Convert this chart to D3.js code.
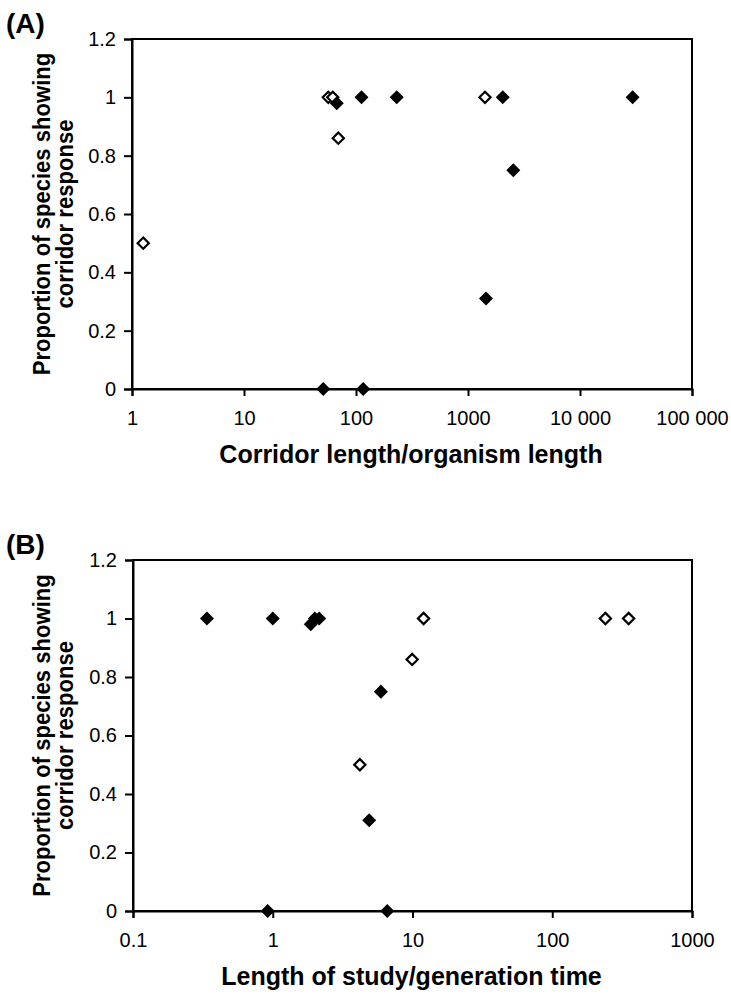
<!DOCTYPE html>
<html>
<head>
<meta charset="utf-8">
<script src="https://cdn.jsdelivr.net/npm/d3@7"></script>
<style>
  body { margin: 0; background: #fff; }
  text { font-family: "Liberation Sans", Arial, sans-serif; }
</style>
</head>
<body>
<div id="chart"></div>
<script>
// values

// (A) corridor length / organism length
var corridorOpenX = [1.26, 56.6, 62, 69.5, 1418];
var corridorOpenY = [0.5, 1, 1, 0.86, 1];
var corridorFilledX = [67.3, 112, 231, 51, 116, 2042, 2540, 1448, 29500];
var corridorFilledY = [0.98, 1, 1, 0, 0, 1, 0.75, 0.31, 1];

// (B) length of study / generation time
var studyOpenX = [4.2, 9.94, 12, 240, 352];
var studyOpenY = [0.5, 0.86, 1, 1, 1];
var studyFilledX = [0.338, 1.0, 1.87, 2.0, 2.15, 5.94, 4.9, 0.92, 6.6];
var studyFilledY = [1, 1, 0.98, 1, 1, 0.75, 0.31, 0, 0];

var yTicks = [0, 0.2, 0.4, 0.6, 0.8, 1, 1.2];
var yTickLabels = ["0", "0.2", "0.4", "0.6", "0.8", "1", "1.2"];
var xTicksA = [1, 10, 100, 1000, 10000, 100000];
var xTickLabelsA = ["1", "10", "100", "1000", "10 000", "100 000"];
var xTicksB = [0.1, 1, 10, 100, 1000];
var xTickLabelsB = ["0.1", "1", "10", "100", "1000"];

var svg = d3.select("#chart")
    .append("svg")
    .attr("width", 731)
    .attr("height", 1001);

function zip(xs, ys) {
    return xs.map(function (d, i) { return {x: d, y: ys[i]}; });
}

function panel(opt) {
    var x = d3.scaleLog().domain(opt.xDomain).range([opt.left, opt.right]);
    var y = d3.scaleLinear().domain([0, 1.2]).range([opt.bottom, opt.top]);

    // frame
    svg.append("rect")
        .attr("x", opt.left)
        .attr("y", opt.top)
        .attr("width", opt.right - opt.left)
        .attr("height", opt.bottom - opt.top)
        .attr("fill", "none")
        .attr("stroke", "#000")
        .attr("stroke-width", 2);

    var gx = svg.append("g")
        .attr("transform", "translate(0," + opt.bottom + ")")
        .call(d3.axisBottom(x)
            .tickValues(opt.xTicks)
            .tickFormat(function (d, i) { return opt.xLabels[i]; })
            .tickSizeOuter(0)
            .tickSize(7)
            .tickPadding(15));

    var gy = svg.append("g")
        .attr("transform", "translate(" + opt.left + ",0)")
        .call(d3.axisLeft(y)
            .tickValues(yTicks)
            .tickFormat(function (d, i) { return yTickLabels[i]; })
            .tickSizeOuter(0)
            .tickSize(8)
            .tickPadding(8));

    [gx, gy].forEach(function (g) {
        g.select(".domain").attr("stroke-width", 2);
        g.selectAll(".tick line").attr("stroke-width", 2);
        g.selectAll(".tick text")
            .style("font-size", "20px")
            .style("font-family", "'Liberation Sans', Arial, sans-serif")
            .attr("fill", "#000");
    });

    var diamond = d3.symbol().type(d3.symbolDiamond2);

    svg.append("g").selectAll("path")
        .data(zip(opt.openX, opt.openY))
        .enter()
        .append("path")
        .attr("transform", function (d) {
            return "translate(" + x(d.x) + "," + y(d.y) + ")";
        })
        .attr("d", diamond.size(80)())
        .attr("fill", "#fff")
        .attr("stroke", "#000")
        .attr("stroke-width", 2.2);

    svg.append("g").selectAll("path")
        .data(zip(opt.filledX, opt.filledY))
        .enter()
        .append("path")
        .attr("transform", function (d) {
            return "translate(" + x(d.x) + "," + y(d.y) + ")";
        })
        .attr("d", diamond.size(125)())
        .attr("fill", "#000");

    // panel letter
    svg.append("text")
        .attr("x", 6)
        .attr("y", opt.top - 6)
        .style("font-size", "28px")
        .style("font-weight", "bold")
        .text(opt.letter);

    // x title
    svg.append("text")
        .attr("x", (opt.left + opt.right) / 2 - 1)
        .attr("y", opt.bottom + 74)
        .attr("text-anchor", "middle")
        .style("font-size", "25px")
        .style("font-weight", "bold")
        .text(opt.xTitle);

    // y title, two lines (slightly condensed along the text)
    var cy = (opt.top + opt.bottom) / 2;
    svg.append("text")
        .attr("transform", "translate(50," + cy + ") rotate(-90) scale(0.92,1)")
        .attr("text-anchor", "middle")
        .style("font-size", "24px")
        .style("font-weight", "bold")
        .text("Proportion of species showing");
    svg.append("text")
        .attr("transform", "translate(73," + cy + ") rotate(-90) scale(0.92,1)")
        .attr("text-anchor", "middle")
        .style("font-size", "24px")
        .style("font-weight", "bold")
        .text("corridor response");
}

panel({
    letter: "(A)",
    left: 132, right: 692, top: 39, bottom: 389,
    xDomain: [1, 100000],
    xTicks: xTicksA, xLabels: xTickLabelsA,
    openX: corridorOpenX, openY: corridorOpenY,
    filledX: corridorFilledX, filledY: corridorFilledY,
    xTitle: "Corridor length/organism length"
});

panel({
    letter: "(B)",
    left: 133, right: 692, top: 560, bottom: 911,
    xDomain: [0.1, 1000],
    xTicks: xTicksB, xLabels: xTickLabelsB,
    openX: studyOpenX, openY: studyOpenY,
    filledX: studyFilledX, filledY: studyFilledY,
    xTitle: "Length of study/generation time"
});
</script>
</body>
</html>
